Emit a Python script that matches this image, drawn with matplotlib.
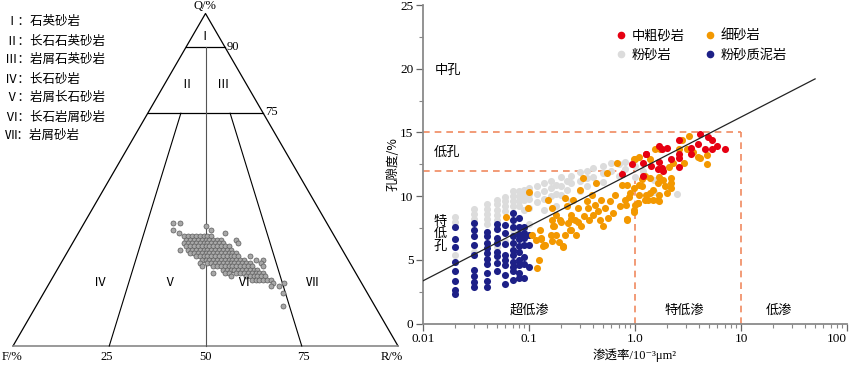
import matplotlib
matplotlib.use('Agg')
import matplotlib.pyplot as plt
from matplotlib.ticker import FixedLocator, FixedFormatter, NullFormatter, LogLocator
from matplotlib.lines import Line2D

plt.rcParams['font.family'] = ['Liberation Serif', 'Noto Sans CJK SC', 'DejaVu Sans']

# ---------------- ternary data (Q, R in %; F = 100 - Q - R) ----------------
tern_row_Q = [33, 32, 31, 30, 29, 28, 27, 26, 25, 24, 23, 22, 21, 20]
tern_row_R_from = [28, 29, 29, 30, 31, 32, 34, 36, 38, 40, 43, 47, 50, 52]
tern_row_R_to = [35, 38, 39, 41, 42, 44, 45, 47, 49, 50, 52, 54, 55, 57]
tern_out_Q = [37, 37, 35, 34, 36, 35, 34, 29, 25, 24, 22, 22, 22, 21, 27, 26, 26, 25, 24,
              32, 31, 19, 18, 19, 16, 12, 18]
tern_out_R = [23, 25, 24, 26, 32, 34, 38, 29, 36, 37, 41, 44, 45, 46, 48, 50, 52, 52, 53,
              42, 43, 58, 60, 61, 62, 64, 58]

tern_labels = ['Ⅰ：石英砂岩', 'Ⅱ：长石石英砂岩', 'Ⅲ：岩屑石英砂岩', 'Ⅳ：长石砂岩',
               'Ⅴ：岩屑长石砂岩', 'Ⅵ：长石岩屑砂岩', 'Ⅶ：岩屑砂岩']

# ---------------- porosity-permeability data ----------------
blue_cols = [0.02, 0.03, 0.04, 0.05, 0.06, 0.07, 0.08, 0.09, 0.1]
blue_phi = [
    [7.6, 6.6, 6.0, 4.8, 4.1, 3.3, 2.6, 2.3],
    [7.9, 7.35, 6.85, 6.2, 5.4, 4.2, 3.7, 3.25, 2.9],
    [7.2, 6.85, 6.3, 5.95, 5.5, 5.05, 4.65, 3.95, 3.35, 2.85],
    [7.8, 7.45, 6.7, 6.3, 5.65, 5.3, 4.75, 4.15],
    [7.7, 7.1, 6.25, 5.4, 5.0, 4.6, 3.8, 3.1],
    [8.7, 8.15, 7.6, 6.85, 6.3, 5.8, 5.35, 4.85, 4.45, 4.1, 3.45],
    [8.25, 7.6, 7.0, 6.6, 6.1, 5.6, 5.0, 4.6, 3.95, 3.55],
    [7.6, 7.1, 6.7, 6.2, 5.2, 4.65, 3.6],
    [6.95, 6.2, 4.4],
]
gray_cols = [0.02, 0.03, 0.04, 0.05, 0.06, 0.07, 0.08, 0.09, 0.1, 0.12, 0.14, 0.16, 0.18,
             0.2, 0.23, 0.25, 0.3, 0.35, 0.4, 0.5, 0.6, 0.7, 0.8, 1.0, 1.2, 1.5, 2.0, 2.5]
gray_phi = [
    [8.35, 7.95, 5.4],
    [9.0, 8.6, 8.2, 5.6],
    [9.35, 8.95, 8.6, 8.2, 7.8],
    [9.7, 9.35, 8.9, 8.5, 8.1, 6.0],
    [9.95, 9.6, 9.2, 8.8, 6.5],
    [10.4, 10.0, 9.6, 9.2, 7.3],
    [10.4, 10.0, 9.6, 9.2],
    [10.5, 10.1, 9.7, 8.9, 7.4],
    [10.6, 10.2, 9.8, 9.1, 7.8],
    [10.8, 10.2, 9.5],
    [11.0, 10.4, 9.8, 8.9],
    [11.2, 10.6, 10.0],
    [10.9, 10.2, 9.2],
    [11.5, 10.8, 10.1],
    [11.2, 10.5],
    [11.6, 11.0, 9.6],
    [11.9, 11.2, 10.4],
    [12.0, 11.4, 10.8],
    [12.2, 11.5],
    [12.4, 11.8, 11.1],
    [12.6, 12.0],
    [12.5, 11.6],
    [12.7, 12.1],
    [12.4, 11.5],
    [12.0],
    [11.3, 10.3],
    [10.8],
    [10.2],
]
orange_k = [0.061, 0.1, 0.098, 0.106, 0.127, 0.136, 0.123, 0.12, 0.117, 0.131, 0.141, 0.152,
            0.164, 0.164, 0.172, 0.18, 0.18, 0.195, 0.21, 0.22, 0.227, 0.235, 0.244, 0.25,
            0.26, 0.27, 0.28, 0.29, 0.30, 0.31, 0.32, 0.33, 0.35, 0.36, 0.37, 0.39, 0.40,
            0.42, 0.43, 0.45, 0.47, 0.48, 0.50, 0.52, 0.54, 0.56, 0.58, 0.62, 0.65, 0.67,
            0.72, 0.75, 0.80, 0.84, 0.90, 0.98, 1.0, 1.07, 1.16, 1.24, 1.33, 1.38, 1.49,
            1.66, 1.73, 1.85, 2.0, 2.2, 2.3, 2.6, 2.8, 2.9, 3.2, 3.5, 3.9,
            0.13, 0.14, 0.16, 0.164, 0.19, 0.21, 0.22, 0.17, 0.20, 0.25, 0.25, 0.29,
            1.54, 3.1, 4.1, 4.8, 4.8, 2.1, 2.2, 1.7, 1.4, 1.17, 0.97, 1.1, 0.84, 0.97,
            1.1, 1.66, 1.9, 2.2, 1.4, 1.67, 1.1, 1.0, 1.24, 1.49, 1.7, 0.82, 0.97, 0.84,
            0.87, 1.07, 1.27]
orange_phi = [8.33, 10.3, 9.07, 6.97, 7.36, 6.05, 5.0, 4.35, 6.57, 6.7, 6.18, 9.72,
              9.07, 8.15, 7.62, 8.54, 6.97, 8.15, 6.05, 9.86, 9.2, 7.89, 7.36, 8.54,
              9.72, 8.15, 6.97, 9.07, 10.5, 7.62, 11.4, 8.41, 9.59, 9.07, 8.15, 10.1, 8.54,
              9.33, 11.0, 8.8, 8.15, 9.72, 7.62, 9.07, 11.8, 8.28, 9.59, 8.68, 10.1, 12.6,
              9.2, 10.9, 9.72, 8.15, 10.25, 8.94, 12.9, 9.46, 10.8, 11.6, 9.72, 12.9, 10.5,
              9.72, 13.7, 11.3, 10.25, 11.0, 12.6, 13.7, 14.4, 12.6, 14.7, 13.5, 13.1,
              6.63, 6.18, 6.97, 6.44, 6.36, 6.0, 6.97, 7.62, 8.0, 7.36, 8.2, 8.0,
              13.7, 13.7, 13.0, 13.2, 12.5, 12.3, 11.4, 11.5, 11.4, 11.35, 12.9, 13.05, 10.9,
              10.6, 10.9, 11.0, 10.8, 10.6, 10.25, 10.1, 10.1, 9.33, 9.72, 9.72, 9.65, 9.33,
              8.75, 8.2, 9.9, 9.46, 10.06]
red_k = [1.28, 1.67, 1.79, 2.0, 2.6, 3.4, 3.9, 4.1, 4.9, 5.3, 4.6, 5.3, 6.0, 7.1, 2.6,
         2.6, 2.2, 1.7, 1.79, 1.66, 1.42, 1.2, 1.85, 2.6, 3.4, 0.93, 0.75, 1.2, 1.28]
red_phi = [13.27, 13.9, 13.7, 13.8, 14.4, 13.8, 14.1, 14.9, 14.6, 14.4, 13.7, 13.7, 13.9,
           13.7, 13.3, 13.0, 12.9, 12.7, 12.2, 12.1, 12.35, 11.6, 11.95, 12.3, 13.3, 12.5,
           11.7, 12.6, 13.3]
fit_k = [0.01, 50]
fit_phi = [3.35, 19.2]

legend_names = ['中粗砂岩', '粉砂岩', '细砂岩', '粉砂质泥岩']
c_red, c_orange, c_gray, c_blue = '#e60012', '#f39800', '#dcdcdc', '#1d2087'

fig = plt.figure(figsize=(8.5, 3.66), dpi=100)

# ---------------- ternary panel (pixel-like coordinates) ----------------
ax0 = fig.add_axes([0, 0, 420 / 850, 1])
ax0.set_xlim(0, 420)
ax0.set_ylim(366, 0)
ax0.axis('off')

Fx, Fy = 13.0, 346.0
Rx, Ry = 398.0, 346.0
Qx, Qy = 205.5, 13.5

def tern(q, r):
    f = 1 - q - r
    return f * Fx + r * Rx + q * Qx, f * Fy + r * Ry + q * Qy

ax0.plot([Fx, Qx, Rx], [Fy, Qy, Ry], color='black', lw=0.9)
ax0.plot([Fx, Rx], [Fy, Ry], color='#888888', lw=1.2)
a = tern(0.9, 0.0); b = tern(0.9, 0.1)
ax0.plot([a[0], b[0]], [a[1], b[1]], color='black', lw=0.9)
a = tern(0.70, 0.0); b = tern(0.70, 0.30)
ax0.plot([a[0], b[0]], [a[1], b[1]], color='black', lw=0.9)
a = tern(0.9, 0.05); b = tern(0.0, 0.5)
ax0.plot([a[0], b[0]], [a[1], b[1]], color='#555555', lw=0.8)
a = tern(0.70, 0.086); b = tern(0.0, 0.25)
ax0.plot([a[0], b[0]], [a[1], b[1]], color='black', lw=0.8)
a = tern(0.70, 0.214); b = tern(0.0, 0.75)
ax0.plot([a[0], b[0]], [a[1], b[1]], color='black', lw=0.8)

tq, tr = [], []
for q, r0, r1 in zip(tern_row_Q, tern_row_R_from, tern_row_R_to):
    for r in range(r0, r1 + 1):
        tq.append(q / 100); tr.append(r / 100)
tq += [q / 100 for q in tern_out_Q]
tr += [r / 100 for r in tern_out_R]
px, py = zip(*[tern(q, r) for q, r in zip(tq, tr)])
ax0.scatter(px, py, s=13, c='#a8a8a8', edgecolors='#5a5a5a', linewidths=0.5, zorder=3)

fs = 9
ax0.text(205, 6, 'Q/%', ha='center', va='center', fontsize=fs)
ax0.text(227, 47, '90', ha='left', va='center', fontsize=fs)
ax0.text(265, 112, '75', ha='left', va='center', fontsize=fs)
ax0.text(12, 357, 'F/%', ha='center', va='center', fontsize=fs)
ax0.text(392, 357, 'R/%', ha='center', va='center', fontsize=fs)
for xv, s in [(107, '25'), (205, '50'), (303, '75')]:
    ax0.text(xv, 357, s, ha='center', va='center', fontsize=fs)
for (xv, yv, s) in [(205, 37, 'Ⅰ'), (186, 85, 'Ⅱ'), (223, 85, 'Ⅲ'), (100, 282, 'Ⅳ'),
                    (170, 282, 'Ⅴ'), (243, 282, 'Ⅵ'), (312, 282, 'Ⅶ')]:
    ax0.text(xv, yv, s, ha='center', va='center', fontsize=fs,
             family=['Noto Sans CJK SC'])
for i, s in enumerate(tern_labels):
    ax0.text(5, 22 + 19 * i, s, ha='left', va='center', fontsize=fs,
             family=['Noto Sans CJK SC'])

# ---------------- porosity-permeability panel ----------------
ax = fig.add_axes([423 / 850, 1 - 323.5 / 366, 424 / 850, 318.5 / 366])
ax.set_xscale('log')
ax.set_xlim(0.01, 100)
ax.set_ylim(0, 25)

gk = [k for k, ph in zip(gray_cols, gray_phi) for _ in ph]
gp = [p for ph in gray_phi for p in ph]
bk = [k for k, ph in zip(blue_cols, blue_phi) for _ in ph]
bp = [p for ph in blue_phi for p in ph]
ms = 26
ax.scatter(gk, gp, s=ms, c=c_gray, linewidths=0, zorder=2)
ax.scatter(bk, bp, s=ms, c=c_blue, linewidths=0, zorder=3)
ax.scatter(orange_k, orange_phi, s=ms, c=c_orange, linewidths=0, zorder=4)
ax.scatter(red_k, red_phi, s=ms, c=c_red, linewidths=0, zorder=5)
ax.plot(fit_k, fit_phi, color='#222222', lw=0.9, zorder=6)

dc = '#f08a60'
ax.plot([0.01, 10], [15, 15], color=dc, lw=1.2, ls=(0, (4, 3)), zorder=1)
ax.plot([10, 10], [0, 15], color=dc, lw=1.2, ls=(0, (4, 3)), zorder=1)
ax.plot([0.01, 1], [12, 12], color=dc, lw=1.2, ls=(0, (4, 3)), zorder=1)
ax.plot([1, 1], [0, 12], color=dc, lw=1.2, ls=(0, (4, 3)), zorder=1)

for sp in ['top', 'right']:
    ax.spines[sp].set_visible(False)
for sp in ['left', 'bottom']:
    ax.spines[sp].set_color('#8a8a8a')
    ax.spines[sp].set_linewidth(1.3)
ax.set_yticks([0, 5, 10, 15, 20, 25])
ax.yaxis.set_minor_locator(FixedLocator([2.5, 7.5, 12.5, 17.5, 22.5]))
ax.xaxis.set_major_locator(FixedLocator([0.01, 0.1, 1, 10, 100]))
ax.xaxis.set_major_formatter(FixedFormatter(['0.01', '0.1', '1.0', '10', '100']))
ax.xaxis.set_minor_locator(LogLocator(base=10, subs=range(2, 10)))
ax.xaxis.set_minor_formatter(NullFormatter())
ax.tick_params(axis='both', which='major', length=5, width=0.9, color='#666666',
               labelsize=9.5, pad=2)
ax.tick_params(axis='both', which='minor', length=3, width=0.8, color='#888888')
xl = ax.get_xticklabels()
xl[-1].set_horizontalalignment('right')
ax.set_ylabel('孔隙度/%', fontsize=9, labelpad=0, family=['Noto Sans CJK SC', 'DejaVu Sans'])
ax.set_xlabel('渗透率/10⁻³μm²', fontsize=9, labelpad=2,
              family=['Liberation Serif', 'Noto Sans CJK SC', 'DejaVu Sans'])

tf = 9.5
ax.text(0.013, 19.8, '中孔', ha='left', va='center', fontsize=tf)
ax.text(0.0125, 13.4, '低孔', ha='left', va='center', fontsize=tf)
ax.text(0.0145, 7.0, '特\n低\n孔', ha='center', va='center', fontsize=tf, linespacing=1.05)
ax.text(0.1, 1.0, '超低渗', ha='center', va='center', fontsize=tf)
ax.text(2.9, 1.0, '特低渗', ha='center', va='center', fontsize=tf)
ax.text(23, 1.0, '低渗', ha='center', va='center', fontsize=tf)

handles = [Line2D([], [], ls='none', marker='o', ms=4.5, mfc=c, mec=c)
           for c in [c_red, c_gray, c_orange, c_blue]]
ax.legend(handles, legend_names, ncol=2, frameon=False, loc='upper left',
          bbox_to_anchor=(0.44, 0.94), fontsize=9.5, handletextpad=0.3,
          columnspacing=1.4, labelspacing=0.5, handlelength=1.0, borderaxespad=0)

fig.savefig('out.png', dpi=100)
